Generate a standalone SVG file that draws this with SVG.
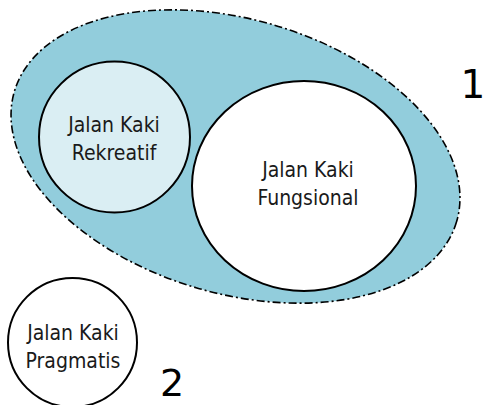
<svg xmlns="http://www.w3.org/2000/svg" width="484" height="405" viewBox="0 0 484 405">
<style>
.lbl{font-family:"DejaVu Sans Condensed","DejaVu Sans",sans-serif;font-stretch:condensed;font-size:21px;fill:#1a1a1a;text-anchor:middle}
.num{font-family:"DejaVu Sans","Liberation Sans",sans-serif;font-size:39px;fill:#000;text-anchor:middle}
.ring{stroke:#000;stroke-width:2}
</style>
<rect width="484" height="405" fill="#fff"/>
<g id="group1">
<ellipse cx="235.5" cy="156.5" rx="230.5" ry="137" transform="rotate(16.4 235.5 156.5)" fill="#92cddc" stroke="#000" stroke-width="1.6" stroke-dasharray="8 3 2 3"/>
</g>
<g id="rekreatif">
<circle class="ring" cx="114.5" cy="137" r="75.5" fill="#daeef3"/>
<text class="lbl" x="114" y="132">Jalan Kaki</text>
<text class="lbl" x="114" y="160">Rekreatif</text>
</g>
<g id="fungsional">
<ellipse class="ring" cx="304" cy="186" rx="112" ry="105" fill="#fff"/>
<text class="lbl" x="308" y="177">Jalan Kaki</text>
<text class="lbl" x="308" y="205">Fungsional</text>
</g>
<g id="pragmatis">
<circle class="ring" cx="72.5" cy="342.5" r="64.5" fill="#fff"/>
<text class="lbl" x="73" y="340">Jalan Kaki</text>
<text class="lbl" x="73" y="368">Pragmatis</text>
</g>
<g id="labels">
<text class="num" x="473" y="98">1</text>
<text class="num" x="172" y="396" style="font-size:38px">2</text>
</g>
<g id="connectors"></g>
</svg>
